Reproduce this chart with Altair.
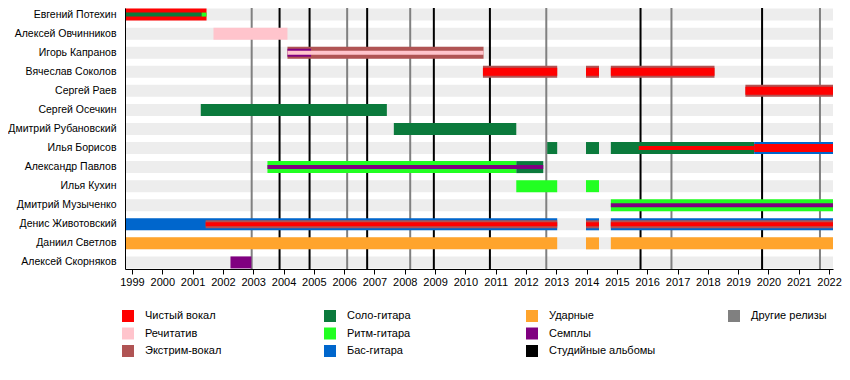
import altair as alt
import pandas as pd

# ---------------- data ----------------
START = 1998.77
END = 2022.13

members = [
    "Евгений Потехин", "Алексей Овчинников", "Игорь Капранов", "Вячеслав Соколов",
    "Сергей Раев", "Сергей Осечкин", "Дмитрий Рубановский", "Илья Борисов",
    "Александр Павлов", "Илья Кухин", "Дмитрий Музыченко", "Денис Животовский",
    "Даниил Светлов", "Алексей Скорняков",
]

# legend order (filled column by column, 3 rows); the last two are empty slots
legend_labels = [
    "Чистый вокал", "Речитатив", "Экстрим-вокал",
    "Соло-гитара", "Ритм-гитара", "Бас-гитара",
    "Ударные", "Семплы", "Студийные альбомы",
    "Другие релизы", " ", "  ",
]
legend_colors = [
    "#ff0000", "#ffc4cc", "#b05454",
    "#0b7a3c", "#22ff22", "#0066cc",
    "#ffa42c", "#800080", "#000000",
    "#808080", "#ffffff", "#ffffff",
]

# main (full thickness) bars: member, role, start, end
outer_bars = [
    ("Евгений Потехин", "Чистый вокал", 1998.77, 2001.46),
    ("Алексей Овчинников", "Речитатив", 2001.69, 2004.13),
    ("Игорь Капранов", "Экстрим-вокал", 2004.13, 2010.60),
    ("Вячеслав Соколов", "Экстрим-вокал", 2010.58, 2013.03),
    ("Вячеслав Соколов", "Экстрим-вокал", 2013.98, 2014.41),
    ("Вячеслав Соколов", "Экстрим-вокал", 2014.80, 2018.22),
    ("Сергей Раев", "Экстрим-вокал", 2019.24, 2022.13),
    ("Сергей Осечкин", "Соло-гитара", 2001.27, 2007.41),
    ("Дмитрий Рубановский", "Соло-гитара", 2007.64, 2011.68),
    ("Илья Борисов", "Соло-гитара", 2012.70, 2013.03),
    ("Илья Борисов", "Соло-гитара", 2013.98, 2014.41),
    ("Илья Борисов", "Соло-гитара", 2014.80, 2019.53),
    ("Илья Борисов", "Бас-гитара", 2019.53, 2022.13),
    ("Александр Павлов", "Ритм-гитара", 2003.47, 2011.68),
    ("Александр Павлов", "Соло-гитара", 2011.68, 2012.57),
    ("Илья Кухин", "Ритм-гитара", 2011.68, 2013.03),
    ("Илья Кухин", "Ритм-гитара", 2013.98, 2014.41),
    ("Дмитрий Музыченко", "Ритм-гитара", 2014.80, 2022.13),
    ("Денис Животовский", "Бас-гитара", 1998.77, 2013.03),
    ("Денис Животовский", "Бас-гитара", 2013.98, 2014.41),
    ("Денис Животовский", "Бас-гитара", 2014.80, 2022.13),
    ("Даниил Светлов", "Ударные", 1998.77, 2013.03),
    ("Даниил Светлов", "Ударные", 2013.98, 2014.41),
    ("Даниил Светлов", "Ударные", 2014.80, 2022.13),
    ("Алексей Скорняков", "Семплы", 2002.25, 2002.94),
]

# secondary (medium thickness) bars
middle_bars = [
    ("Вячеслав Соколов", "Чистый вокал", 2010.58, 2013.03),
    ("Вячеслав Соколов", "Чистый вокал", 2013.98, 2014.41),
    ("Вячеслав Соколов", "Чистый вокал", 2014.80, 2018.22),
    ("Сергей Раев", "Чистый вокал", 2019.24, 2022.13),
    ("Игорь Капранов", "Семплы", 2004.13, 2004.91),
    ("Денис Животовский", "Экстрим-вокал", 2001.43, 2013.03),
    ("Денис Животовский", "Экстрим-вокал", 2013.98, 2014.41),
    ("Денис Животовский", "Экстрим-вокал", 2014.80, 2022.13),
    ("Илья Борисов", "Чистый вокал", 2019.53, 2022.13),
]

# tertiary (thin) bars
inner_bars = [
    ("Евгений Потехин", "Соло-гитара", 1998.77, 2001.30),
    ("Евгений Потехин", "Ритм-гитара", 2001.30, 2001.46),
    ("Игорь Капранов", "Речитатив", 2004.13, 2010.60),
    ("Илья Борисов", "Чистый вокал", 2015.72, 2019.53),
    ("Александр Павлов", "Семплы", 2003.47, 2012.57),
    ("Дмитрий Музыченко", "Семплы", 2014.80, 2022.13),
    ("Денис Животовский", "Чистый вокал", 2001.43, 2013.03),
    ("Денис Животовский", "Чистый вокал", 2013.98, 2014.41),
    ("Денис Животовский", "Чистый вокал", 2014.80, 2022.13),
]

album_years = [2003.87, 2004.86, 2006.76, 2008.96, 2010.81, 2015.78, 2019.79]
other_years = [2002.95, 2006.10, 2008.18, 2012.67, 2016.80, 2021.70]

year_ticks = list(range(1999, 2023))

# ---------------- frames ----------------
cols = ["member", "role", "start", "end"]
df_outer = pd.DataFrame(outer_bars, columns=cols)
df_mid = pd.DataFrame(middle_bars, columns=cols)
df_inner = pd.DataFrame(inner_bars, columns=cols)
df_bg = pd.DataFrame({"member": members, "start": START, "end": END})
df_albums = pd.DataFrame({"year": album_years})
df_other = pd.DataFrame({"year": other_years})

FONT = "Liberation Sans"

x_scale = alt.Scale(domain=[START, END], nice=False, zero=False)
x_axis = alt.Axis(
    values=year_ticks, format="d", title=None, grid=False,
    labelFontSize=11, labelColor="black", labelFont=FONT, labelOverlap=False,
    labelFlush=False, tickColor="black", tickSize=5, domainColor="black",
    labelPadding=2,
)
y_enc = alt.Y(
    "member:N", sort=members,
    scale=alt.Scale(paddingInner=0.37, paddingOuter=0.03),
    axis=alt.Axis(title=None, ticks=False, grid=False, labelFontSize=10.5,
                  labelColor="black", labelFont=FONT, labelPadding=9,
                  domainColor="black", labelLimit=200, zindex=1),
)
color_scale = alt.Scale(domain=legend_labels, range=legend_colors)

legend = alt.Legend(
    title=None, orient="none", legendX=-3, legendY=302,
    columns=4, gridAlign="all", columnPadding=72, rowPadding=5.5,
    symbolType="square", symbolSize=144, symbolStrokeWidth=0,
    symbolOpacity=1, labelFontSize=11, labelFont=FONT,
    labelColor="black", labelOffset=11, padding=0,
)
color_enc = alt.Color("role:N", scale=color_scale, legend=legend)

bg = alt.Chart(df_bg).mark_bar(color="#ededed").encode(
    x=alt.X("start:Q", scale=x_scale, axis=x_axis),
    x2="end:Q",
    y=y_enc,
)

album_rules = alt.Chart(df_albums).mark_rule(strokeWidth=2, color="#000000").encode(
    x=alt.X("year:Q", scale=x_scale, axis=x_axis),
)
other_rules = alt.Chart(df_other).mark_rule(strokeWidth=2, color="#808080").encode(
    x=alt.X("year:Q", scale=x_scale, axis=x_axis),
)

outer = alt.Chart(df_outer).mark_bar(size=12).encode(
    x=alt.X("start:Q", scale=x_scale, axis=x_axis),
    x2="end:Q",
    y=y_enc,
    color=color_enc,
)

mid = alt.Chart(df_mid).mark_bar(size=8).encode(
    x=alt.X("start:Q", scale=x_scale, axis=x_axis),
    x2="end:Q",
    y=y_enc,
    color=color_enc,
)

inner = alt.Chart(df_inner).mark_bar(size=4).encode(
    x=alt.X("start:Q", scale=x_scale, axis=x_axis),
    x2="end:Q",
    y=y_enc,
    color=color_enc,
)

chart = alt.layer(bg, album_rules, other_rules, outer, mid, inner).properties(
    width=708, height=261,
    autosize=alt.AutoSizeParams(type="none"),
    padding={"left": 117, "top": 0, "right": 9, "bottom": 100},
).configure(font=FONT).configure_view(stroke=None)

chart.save("out.html", embed_options={"renderer": "svg", "actions": False})
